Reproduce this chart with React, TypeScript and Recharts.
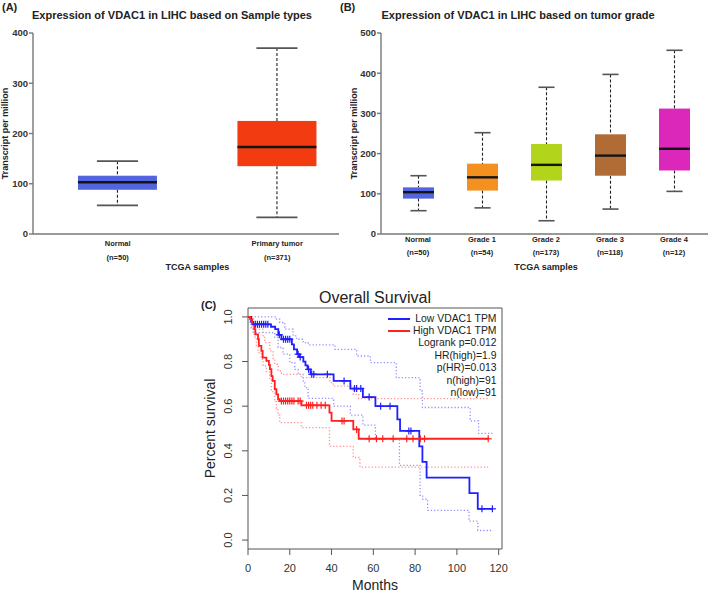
import React from 'react';
import { ComposedChart, Bar, Line, Scatter, XAxis, YAxis, ReferenceArea, Label } from 'recharts';

// (A) expression by sample type
const typeNames = ['Normal', 'Primary tumor'];
const typeCounts = ['(n=50)', '(n=371)'];
const typePos = [1, 2];
const typeMin = [57, 33];
const typeQ1 = [88, 135];
const typeMed = [103, 173];
const typeQ3 = [116, 225];
const typeMax = [145, 370];
const typeTicks = [0, 100, 200, 300, 400];

// (B) expression by tumor grade
const gradeNames = ['Normal', 'Grade 1', 'Grade 2', 'Grade 3', 'Grade 4'];
const gradeCounts = ['(n=50)', '(n=54)', '(n=173)', '(n=118)', '(n=12)'];
const gradeMin = [58, 65, 33, 62, 106];
const gradeQ1 = [88, 108, 133, 145, 158];
const gradeMed = [104, 141, 172, 195, 212];
const gradeQ3 = [116, 175, 224, 248, 312];
const gradeMax = [145, 252, 365, 397, 457];
const gradeTicks = [0, 100, 200, 300, 400, 500];

// (C) Kaplan-Meier, [months, survival]
const lowCurve = [[0, 1], [1.5, 0.978], [2.5, 0.967], [11, 0.956], [13, 0.945], [14.5, 0.92], [16, 0.9], [21, 0.877], [22, 0.855], [23.5, 0.833], [24.5, 0.82], [26.5, 0.8], [27.5, 0.783], [28.5, 0.765], [30, 0.743], [41, 0.713], [49, 0.679], [55, 0.641], [61, 0.6], [71.5, 0.541], [72.8, 0.489], [82, 0.42], [83.5, 0.35], [85.5, 0.28], [106, 0.21], [110, 0.14], [117, 0.14]];
const lowUpper = [[0, 1], [13.6, 0.99], [15.2, 0.975], [17.6, 0.945], [21.6, 0.915], [23.2, 0.9], [26.4, 0.885], [28.8, 0.875], [41.6, 0.855], [52, 0.825], [58.6, 0.795], [71, 0.728], [82.4, 0.668], [83.5, 0.594], [106.4, 0.534], [110.4, 0.478], [117, 0.478]];
const lowLower = [[0, 1], [1.5, 0.95], [2.5, 0.93], [12.8, 0.908], [14.4, 0.863], [16.8, 0.833], [20, 0.795], [22.4, 0.765], [24, 0.743], [26.4, 0.713], [27.2, 0.683], [28.8, 0.635], [41, 0.6], [49, 0.56], [55, 0.515], [61, 0.455], [72.5, 0.335], [82.4, 0.197], [83.6, 0.183], [86, 0.133], [105.8, 0.085], [110, 0.043], [117, 0.043]];
const lowCensor = [3.5, 4.5, 5.5, 6.5, 7.5, 8.5, 9.5, 15, 17, 18, 19, 20, 24, 25, 29, 30.5, 31.5, 38, 46, 51, 52, 54, 58, 63.5, 68, 77, 78, 112, 117];

const highCurve = [[0, 1], [1, 0.989], [2, 0.967], [3, 0.945], [3.5, 0.922], [4.8, 0.9], [5.2, 0.87], [6.4, 0.848], [7, 0.818], [8.8, 0.803], [10, 0.785], [10.5, 0.766], [11.2, 0.735], [11.8, 0.713], [12.8, 0.676], [13.6, 0.653], [14.4, 0.631], [15.2, 0.623], [25.6, 0.604], [39, 0.571], [40, 0.534], [50.4, 0.496], [53, 0.454], [115, 0.454]];
const highUpper = [[0, 1], [1, 1], [2.6, 0.967], [4.8, 0.945], [7.2, 0.908], [8, 0.885], [10.4, 0.848], [12, 0.81], [12.8, 0.788], [14.4, 0.758], [16, 0.743], [25.6, 0.728], [39.2, 0.706], [40.8, 0.69], [50.4, 0.653], [53, 0.634], [115, 0.634]];
const highLower = [[0, 1], [1, 0.975], [2, 0.945], [3, 0.91], [4, 0.87], [4.8, 0.84], [6.4, 0.81], [7.2, 0.78], [8.8, 0.755], [10.4, 0.72], [11.2, 0.665], [12.8, 0.62], [13.6, 0.59], [14.4, 0.56], [15.2, 0.526], [25.6, 0.504], [39, 0.42], [50.4, 0.37], [53.6, 0.327], [115, 0.327]];
const highCensor = [16, 17, 18, 19, 20, 21, 22, 24, 25, 28, 29, 30, 31, 33, 35, 37, 45, 46, 52, 58, 61.5, 64.5, 69.5, 76, 79, 82.5, 84.5, 115];

const monthTicks = [0, 20, 40, 60, 80, 100, 120];
const survTicks = [0, 0.2, 0.4, 0.6, 0.8, 1.0];
const legendSeries = ['Low VDAC1 TPM', 'High VDAC1 TPM'];
const legendStats = ['Logrank p=0.012', 'HR(high)=1.9', 'p(HR)=0.013', 'n(high)=91', 'n(low)=91'];

const typeColors = ['#5365de', '#f23b10'];
const gradeColors = ['#5365de', '#f3901f', '#b2d51c', '#b06c34', '#dc28ba'];
const FONT = "'Liberation Sans', Arial, sans-serif";
const A_DOMAIN = [0.469, 2.3875];

const boxRows = (mins: number[], q1: number[], med: number[], q3: number[], max: number[]) =>
  mins.map((m, i) => ({
    idx: i,
    base: m,
    lowW: q1[i] - m,
    lowBox: med[i] - q1[i],
    highBox: q3[i] - med[i],
    highW: max[i] - q3[i],
  }));

const typeRows = boxRows(typeMin, typeQ1, typeMed, typeQ3, typeMax).map((r, i) => ({ ...r, pos: typePos[i] }));
const gradeRows = boxRows(gradeMin, gradeQ1, gradeMed, gradeQ3, gradeMax).map((r, i) => ({ ...r, name: gradeNames[i] }));

const toRows = (curve: number[][]) => curve.map(([t, s]) => ({ t, s }));
const survAt = (curve: number[][], t: number) => {
  let s = 1;
  for (const [ct, cs] of curve) if (ct <= t) s = cs;
  return s;
};
const censorRows = (curve: number[][], times: number[]) => times.map((t) => ({ t, s: survAt(curve, t) }));

// box plot pieces
const LowWhisker = (p: any) => {
  const cx = p.x + p.width / 2;
  const half = p.width * 0.26;
  const yb = p.y + p.height;
  return (
    <g>
      <line x1={cx} x2={cx} y1={p.y} y2={yb} stroke="#222" strokeWidth={1.1} strokeDasharray="3 2" />
      <line x1={cx - half} x2={cx + half} y1={yb} y2={yb} stroke="#555" strokeWidth={1.6} />
    </g>
  );
};
const HighWhisker = (p: any) => {
  const cx = p.x + p.width / 2;
  const half = p.width * 0.26;
  return (
    <g>
      <line x1={cx} x2={cx} y1={p.y} y2={p.y + p.height} stroke="#222" strokeWidth={1.1} strokeDasharray="3 2" />
      <line x1={cx - half} x2={cx + half} y1={p.y} y2={p.y} stroke="#555" strokeWidth={1.6} />
    </g>
  );
};
const boxLow = (colors: string[]) => (p: any) => (
  <rect x={p.x} y={p.y} width={p.width} height={p.height} fill={colors[p.payload.idx]} />
);
const boxHigh = (colors: string[]) => (p: any) => (
  <g>
    <rect x={p.x} y={p.y} width={p.width} height={p.height} fill={colors[p.payload.idx]} />
    <line x1={p.x} x2={p.x + p.width} y1={p.y + p.height} y2={p.y + p.height} stroke="#151515" strokeWidth={2.4} />
  </g>
);

const catTick = (names: string[], counts: string[], dy1: number, dy2: number) => (props: any) => {
  const { x, y, index } = props;
  return (
    <g>
      <text x={x} y={y + dy1} textAnchor="middle" fontSize={7.5} fontWeight="bold" fill="#222" fontFamily={FONT}>{names[index]}</text>
      <text x={x} y={y + dy2} textAnchor="middle" fontSize={7.5} fontWeight="bold" fill="#222" fontFamily={FONT}>{counts[index]}</text>
    </g>
  );
};

const tpmLabel = (xb: number) => (props: any) => {
  const vb = props.viewBox;
  const cy = vb.y + vb.height / 2;
  return (
    <text x={xb} y={cy} transform={`rotate(-90 ${xb} ${cy})`} textAnchor="middle" fontSize={9} fontWeight="bold" fill="#222" fontFamily={FONT}>
      Transcript per million
    </text>
  );
};

const yTickStyle = { fontSize: 9.5, fontWeight: 'bold', fill: '#333', fontFamily: FONT };
const axisStroke = { stroke: '#777', strokeWidth: 1.4 };

const PanelA = () => (
  <ComposedChart width={345} height={285} data={typeRows} margin={{ top: 33, right: 6, bottom: 0, left: 0 }}>
    <XAxis
      type="number"
      dataKey="pos"
      domain={A_DOMAIN}
      ticks={typePos}
      allowDataOverflow
      height={51}
      axisLine={axisStroke}
      tickLine={false}
      tickSize={0}
      tickMargin={0}
      tick={catTick(typeNames, typeCounts, 11.5, 25.5)}
    >
      <Label
        content={(props: any) => {
          const vb = props.viewBox;
          const cx = vb.x + (vb.width * (1.5 - A_DOMAIN[0])) / (A_DOMAIN[1] - A_DOMAIN[0]);
          return (
            <text x={cx} y={vb.y + 36} textAnchor="middle" fontSize={9} fontWeight="bold" fill="#222" fontFamily={FONT}>TCGA samples</text>
          );
        }}
      />
    </XAxis>
    <YAxis
      type="number"
      domain={[0, 400]}
      ticks={typeTicks}
      width={33}
      axisLine={axisStroke}
      tickLine={axisStroke}
      tickSize={4}
      tickMargin={1}
      tick={yTickStyle}
    >
      <Label content={tpmLabel(8.2)} />
    </YAxis>
    <Bar dataKey="base" stackId="b" fill="none" barSize={79} isAnimationActive={false} />
    <Bar dataKey="lowW" stackId="b" barSize={79} shape={LowWhisker} isAnimationActive={false} />
    <Bar dataKey="lowBox" stackId="b" barSize={79} shape={boxLow(typeColors)} isAnimationActive={false} />
    <Bar dataKey="highBox" stackId="b" barSize={79} shape={boxHigh(typeColors)} isAnimationActive={false} />
    <Bar dataKey="highW" stackId="b" barSize={79} shape={HighWhisker} isAnimationActive={false} />
  </ComposedChart>
);

const PanelB = () => (
  <ComposedChart width={359} height={285} data={gradeRows} margin={{ top: 33, right: 1, bottom: 0, left: 0 }}>
    <XAxis
      dataKey="name"
      padding={{ left: 5, right: 2 }}
      height={51}
      axisLine={axisStroke}
      tickLine={false}
      tickSize={0}
      tickMargin={0}
      interval={0}
      tick={catTick(gradeNames, gradeCounts, 7.7, 20.7)}
    >
      <Label
        content={(props: any) => {
          const vb = props.viewBox;
          const cx = vb.x + 5 + (vb.width - 7) / 2;
          return (
            <text x={cx} y={vb.y + 36} textAnchor="middle" fontSize={9} fontWeight="bold" fill="#222" fontFamily={FONT}>TCGA samples</text>
          );
        }}
      />
    </XAxis>
    <YAxis
      type="number"
      domain={[0, 500]}
      ticks={gradeTicks}
      width={31}
      axisLine={axisStroke}
      tickLine={axisStroke}
      tickSize={4}
      tickMargin={1}
      tick={yTickStyle}
    >
      <Label content={tpmLabel(6.5)} />
    </YAxis>
    <Bar dataKey="base" stackId="b" fill="none" barSize={31} isAnimationActive={false} />
    <Bar dataKey="lowW" stackId="b" barSize={31} shape={LowWhisker} isAnimationActive={false} />
    <Bar dataKey="lowBox" stackId="b" barSize={31} shape={boxLow(gradeColors)} isAnimationActive={false} />
    <Bar dataKey="highBox" stackId="b" barSize={31} shape={boxHigh(gradeColors)} isAnimationActive={false} />
    <Bar dataKey="highW" stackId="b" barSize={31} shape={HighWhisker} isAnimationActive={false} />
  </ComposedChart>
);

const plusShape = (color: string) => (p: any) => (
  <g stroke={color} strokeWidth={1.2}>
    <line x1={p.cx} x2={p.cx} y1={p.cy - 3.5} y2={p.cy + 3.5} />
    <line x1={p.cx - 3.5} x2={p.cx + 3.5} y1={p.cy} y2={p.cy} />
  </g>
);

const MonthTick = (props: any) => (
  <text x={props.x} y={props.y + 17} textAnchor="middle" fontSize={11} fill="#333" fontFamily={FONT}>
    {props.payload.value}
  </text>
);
const SurvTick = (props: any) => {
  const xb = props.x - 10;
  return (
    <text x={xb} y={props.y} transform={`rotate(-90 ${xb} ${props.y})`} textAnchor="middle" fontSize={11} fill="#333" fontFamily={FONT}>
      {props.payload.value.toFixed(1)}
    </text>
  );
};

const BLUE = '#1f1fff';
const RED = '#ff2020';
const BLUE_CI = '#9494ff';
const RED_CI = '#ff9494';

const PanelC = () => (
  <ComposedChart width={340} height={312} margin={{ top: 28, right: 18, bottom: 0, left: 18 }}>
    <XAxis
      type="number"
      dataKey="t"
      domain={[0, 121.6]}
      ticks={monthTicks}
      allowDataOverflow
      height={43}
      axisLine={false}
      tickLine={{ stroke: '#555' }}
      tickSize={6}
      tickMargin={0}
      tick={MonthTick}
    >
      <Label
        content={(props: any) => {
          const vb = props.viewBox;
          return (
            <text x={vb.x + vb.width / 2} y={vb.y + 41} textAnchor="middle" fontSize={14} fill="#222" fontFamily={FONT}>Months</text>
          );
        }}
      />
    </XAxis>
    <YAxis
      type="number"
      dataKey="s"
      domain={[-0.04, 1.04]}
      ticks={survTicks}
      allowDataOverflow
      width={50}
      axisLine={false}
      tickLine={{ stroke: '#555' }}
      tickSize={6}
      tickMargin={0}
      tick={SurvTick}
    >
      <Label
        content={(props: any) => {
          const vb = props.viewBox;
          const cy = vb.y + vb.height / 2;
          const xb = 34.5;
          return (
            <text x={xb} y={cy} transform={`rotate(-90 ${xb} ${cy})`} textAnchor="middle" fontSize={14} fill="#222" fontFamily={FONT}>
              Percent survival
            </text>
          );
        }}
      />
    </YAxis>
    <ReferenceArea x1={0} x2={121.6} y1={-0.04} y2={1.04} fill="none" stroke="#555" strokeWidth={1} ifOverflow="visible" />
    <Line data={toRows(lowUpper)} dataKey="s" type="stepAfter" stroke={BLUE_CI} strokeWidth={1.3} strokeDasharray="1.3 2" dot={false} isAnimationActive={false} />
    <Line data={toRows(lowLower)} dataKey="s" type="stepAfter" stroke={BLUE_CI} strokeWidth={1.3} strokeDasharray="1.3 2" dot={false} isAnimationActive={false} />
    <Line data={toRows(highUpper)} dataKey="s" type="stepAfter" stroke={RED_CI} strokeWidth={1.3} strokeDasharray="1.3 2" dot={false} isAnimationActive={false} />
    <Line data={toRows(highLower)} dataKey="s" type="stepAfter" stroke={RED_CI} strokeWidth={1.3} strokeDasharray="1.3 2" dot={false} isAnimationActive={false} />
    <Line data={toRows(lowCurve)} dataKey="s" type="stepAfter" stroke={BLUE} strokeWidth={1.8} dot={false} isAnimationActive={false} />
    <Line data={toRows(highCurve)} dataKey="s" type="stepAfter" stroke={RED} strokeWidth={1.8} dot={false} isAnimationActive={false} />
    <Scatter data={censorRows(lowCurve, lowCensor)} dataKey="s" shape={plusShape(BLUE)} isAnimationActive={false} />
    <Scatter data={censorRows(highCurve, highCensor)} dataKey="s" shape={plusShape(RED)} isAnimationActive={false} />
  </ComposedChart>
);

const abs = (left: number, top: number, extra: React.CSSProperties = {}): React.CSSProperties => ({
  position: 'absolute',
  left,
  top,
  whiteSpace: 'nowrap',
  lineHeight: 1,
  ...extra,
});

const LEG_FS = 10.4;
const legText = (center: number): React.CSSProperties =>
  abs(0, center - LEG_FS / 2, { left: 'auto', right: 212.5, fontSize: LEG_FS, lineHeight: 1 });

export default function App() {
  const legendRows = [319, 331];
  const statRows = [343.5, 355.9, 368.3, 380.9, 393.3];
  const legendColors = [BLUE, RED];
  return (
    <div style={{ position: 'absolute', left: 0, top: 0, width: 709, height: 592, background: '#fff', fontFamily: FONT, color: '#222', overflow: 'hidden' }}>
      <div style={abs(0, 0)}><PanelA /></div>
      <div style={abs(350, 0)}><PanelB /></div>
      <div style={abs(180, 280)}><PanelC /></div>

      <div style={abs(2, 2, { fontSize: 11, fontWeight: 'bold' })}>(A)</div>
      <div style={abs(340, 2, { fontSize: 11, fontWeight: 'bold' })}>(B)</div>
      <div style={abs(201, 299.5, { fontSize: 11, fontWeight: 'bold' })}>(C)</div>

      <div style={abs(32, 9.5, { fontSize: 11, fontWeight: 'bold' })}>Expression of VDAC1 in LIHC based on Sample types</div>
      <div style={abs(381.5, 9.5, { fontSize: 11, fontWeight: 'bold' })}>Expression of VDAC1 in LIHC based on tumor grade</div>
      <div style={abs(275, 290.3, { fontSize: 16, width: 200, textAlign: 'center' })}>Overall Survival</div>

      {legendSeries.map((s, i) => (
        <React.Fragment key={s}>
          <div style={abs(388, legendRows[i] - 1, { width: 22, height: 2, background: legendColors[i] })} />
          <div style={legText(legendRows[i])}>{s}</div>
        </React.Fragment>
      ))}
      {legendStats.map((s, i) => (
        <div key={s} style={legText(statRows[i])}>{s}</div>
      ))}
    </div>
  );
}
